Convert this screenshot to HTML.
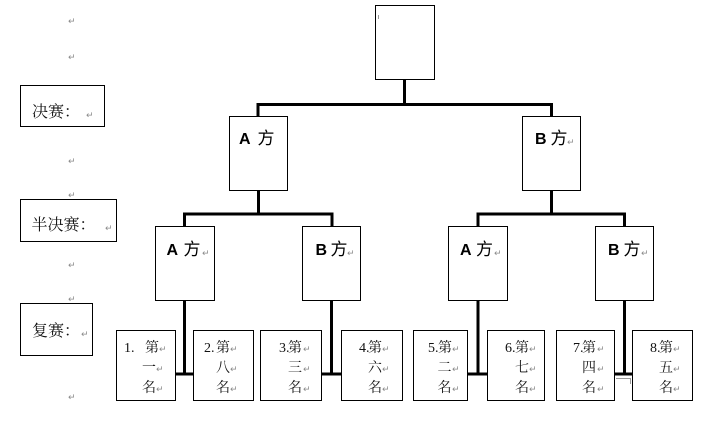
<!DOCTYPE html>
<html>
<head>
<meta charset="utf-8">
<style>
html,body{margin:0;padding:0;background:#fff;}
svg{display:block;}
.lbl{font-family:"Liberation Serif","Noto Serif CJK SC",serif;font-size:16px;fill:#111;}
.hdA{font-family:"Liberation Sans",sans-serif;font-size:16px;font-weight:bold;fill:#000;}
.hd{font-family:"Liberation Sans","Noto Sans CJK SC",sans-serif;font-size:17px;font-weight:normal;fill:#000;}
.num{font-family:"Liberation Serif","Noto Serif CJK SC",serif;font-size:14px;fill:#111;}
.rt{font-family:"DejaVu Sans",sans-serif;font-size:9px;fill:#8a8a8a;}
</style>
</head>
<body>
<svg width="716" height="435" viewBox="0 0 716 435" xmlns="http://www.w3.org/2000/svg">
<rect width="716" height="435" fill="#fff"/>

<!-- left column return marks -->
<text class="rt" x="68" y="24">↵</text>
<text class="rt" x="68" y="60">↵</text>
<text class="rt" x="68" y="164">↵</text>
<text class="rt" x="68" y="198">↵</text>
<text class="rt" x="68" y="268">↵</text>
<text class="rt" x="68" y="302">↵</text>
<text class="rt" x="68" y="400">↵</text>

<!-- label boxes -->
<g fill="none" stroke="#000" stroke-width="1">
<rect x="20.5" y="85.5" width="84" height="41"/>
<rect x="20.5" y="199.5" width="96" height="42"/>
<rect x="20.5" y="303.5" width="72" height="52"/>
</g>
<text class="lbl" x="32" y="117">决赛：</text><text class="rt" x="86" y="118">↵</text>
<text class="lbl" x="31.5" y="230">半决赛：</text><text class="rt" x="105" y="231">↵</text>
<text class="lbl" x="32" y="336">复赛：</text><text class="rt" x="81" y="337">↵</text>

<!-- connectors -->
<g fill="none" stroke="#000" stroke-width="3">
<path d="M404.5,79 V104.5"/>
<path d="M258,116 V104.5 H551.5 V116"/>
<path d="M258.5,190 V214"/>
<path d="M184.5,226 V214 H332 V226"/>
<path d="M551.5,190 V214"/>
<path d="M478,226 V214 H624.5 V226"/>
<path d="M184.5,300 V374"/>
<path d="M176,374 H193.5"/>
<path d="M331.5,300 V374"/>
<path d="M322,374 H341.5"/>
<path d="M478,300 V374"/>
<path d="M468,374 H487.5"/>
<path d="M624.5,300 V374"/>
<path d="M615,374 H632.5"/>
</g>
<g stroke="#999" stroke-width="1" fill="none">
<path d="M616,378.5 H630.5 V384"/>
</g>

<!-- tree boxes -->
<g fill="#fff" stroke="#000" stroke-width="1">
<rect x="375.5" y="5.5" width="59" height="74"/>
<rect x="229.5" y="116.5" width="58" height="74"/>
<rect x="522.5" y="116.5" width="58" height="74"/>
<rect x="155.5" y="226.5" width="59" height="74"/>
<rect x="302.5" y="226.5" width="58" height="74"/>
<rect x="448.5" y="226.5" width="59" height="74"/>
<rect x="595.5" y="226.5" width="58" height="74"/>
<rect x="116.5" y="330.5" width="59" height="70"/>
<rect x="193.5" y="330.5" width="60" height="70"/>
<rect x="260.5" y="330.5" width="61" height="70"/>
<rect x="341.5" y="330.5" width="61" height="70"/>
<rect x="413.5" y="330.5" width="54" height="70"/>
<rect x="487.5" y="330.5" width="57" height="70"/>
<rect x="556.5" y="330.5" width="58" height="70"/>
<rect x="632.5" y="330.5" width="60" height="70"/>
</g>
<path d="M378.5,15 V19" stroke="#999" stroke-width="1"/>

<!-- level 1 headings -->
<text class="hdA" x="239" y="144">A</text><text class="hd" x="257.5" y="144">方</text>
<text class="hdA" x="535" y="144">B</text><text class="hd" x="550.5" y="144">方</text><text class="rt" x="567" y="145">↵</text>

<!-- level 2 headings -->
<text class="hdA" x="166.5" y="255">A</text><text class="hd" x="183.5" y="255">方</text><text class="rt" x="202" y="256">↵</text>
<text class="hdA" x="315.5" y="255">B</text><text class="hd" x="330.5" y="255">方</text><text class="rt" x="347" y="256">↵</text>
<text class="hdA" x="460" y="255">A</text><text class="hd" x="476" y="255">方</text><text class="rt" x="494" y="256">↵</text>
<text class="hdA" x="608" y="255">B</text><text class="hd" x="623.5" y="255">方</text><text class="rt" x="641" y="256">↵</text>

<!-- bottom boxes -->
<!-- box1 -->
<text class="num" x="124" y="352">1.</text><text class="num" x="145" y="352">第</text><text class="rt" x="159" y="352">↵</text>
<text class="num" x="142" y="372">一</text><text class="rt" x="156" y="372">↵</text>
<text class="num" x="142" y="392">名</text><text class="rt" x="156" y="392">↵</text>
<!-- box2 -->
<text class="num" x="204" y="352">2.</text><text class="num" x="216" y="352">第</text><text class="rt" x="230" y="352">↵</text>
<text class="num" x="216" y="372">八</text><text class="rt" x="230" y="372">↵</text>
<text class="num" x="216" y="392">名</text><text class="rt" x="230" y="392">↵</text>
<!-- box3 -->
<text class="num" x="279" y="352">3.</text><text class="num" x="288" y="352">第</text><text class="rt" x="303" y="352">↵</text>
<text class="num" x="288" y="372">三</text><text class="rt" x="303" y="372">↵</text>
<text class="num" x="288" y="392">名</text><text class="rt" x="303" y="392">↵</text>
<!-- box4 -->
<text class="num" x="359" y="352">4.</text><text class="num" x="368" y="352">第</text><text class="rt" x="382" y="352">↵</text>
<text class="num" x="368" y="372">六</text><text class="rt" x="382" y="372">↵</text>
<text class="num" x="368" y="392">名</text><text class="rt" x="382" y="392">↵</text>
<!-- box5 -->
<text class="num" x="428" y="352">5.</text><text class="num" x="438" y="352">第</text><text class="rt" x="452" y="352">↵</text>
<text class="num" x="437.5" y="372">二</text><text class="rt" x="452" y="372">↵</text>
<text class="num" x="437.5" y="392">名</text><text class="rt" x="452" y="392">↵</text>
<!-- box6 -->
<text class="num" x="505" y="352">6.</text><text class="num" x="515" y="352">第</text><text class="rt" x="529" y="352">↵</text>
<text class="num" x="515" y="372">七</text><text class="rt" x="529" y="372">↵</text>
<text class="num" x="515" y="392">名</text><text class="rt" x="529" y="392">↵</text>
<!-- box7 -->
<text class="num" x="573" y="352">7.</text><text class="num" x="582" y="352">第</text><text class="rt" x="597" y="352">↵</text>
<text class="num" x="582" y="372">四</text><text class="rt" x="597" y="372">↵</text>
<text class="num" x="582" y="392">名</text><text class="rt" x="597" y="392">↵</text>
<!-- box8 -->
<text class="num" x="650" y="352">8.</text><text class="num" x="659" y="352">第</text><text class="rt" x="673" y="352">↵</text>
<text class="num" x="659" y="372">五</text><text class="rt" x="673" y="372">↵</text>
<text class="num" x="659" y="392">名</text><text class="rt" x="673" y="392">↵</text>
</svg>
</body>
</html>
